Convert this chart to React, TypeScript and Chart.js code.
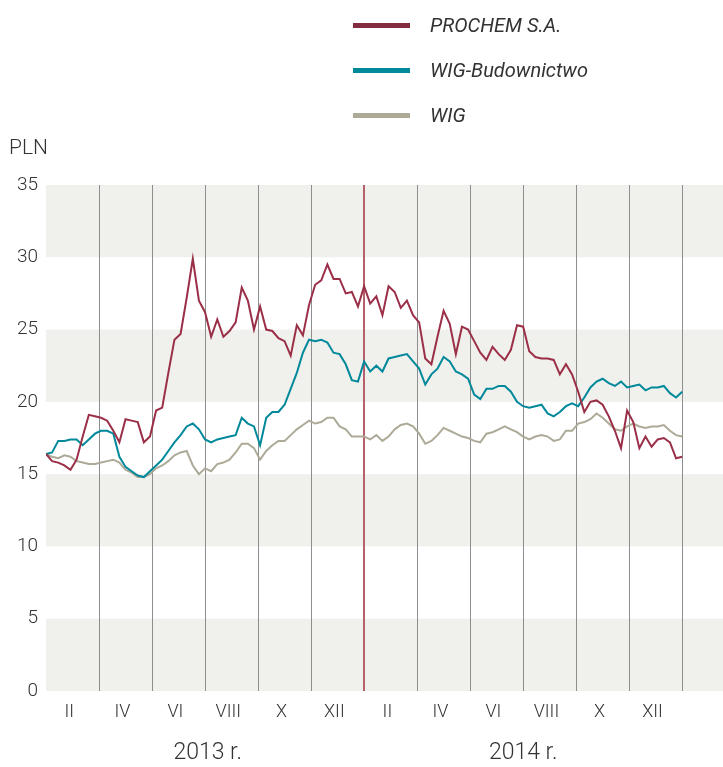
import React, { useEffect, useRef } from "react";
import { Chart, registerables } from "chart.js";

Chart.register(...registerables);

// Weekly readings, Jan 2013 (week 0) .. end of Dec 2014 (week 104)
const prochem = [
  16.4, 15.9, 15.8, 15.6, 15.3, 16.0, 17.6, 19.1, 19.0, 18.9,
  18.7, 18.0, 17.2, 18.8, 18.7, 18.6, 17.2, 17.6, 19.4, 19.6,
  22.0, 24.3, 24.7, 27.2, 29.9, 27.0, 26.2, 24.5, 25.7, 24.5,
  24.9, 25.5, 27.9, 27.0, 25.0, 26.6, 25.0, 24.9, 24.4, 24.2,
  23.2, 25.3, 24.6, 26.7, 28.1, 28.4, 29.5, 28.5, 28.5, 27.5,
  27.6, 26.6, 28.0, 26.8, 27.3, 26.0, 28.0, 27.6, 26.5, 27.0,
  26.0, 25.5, 23.0, 22.6, 24.5, 26.3, 25.4, 23.3, 25.2, 25.0,
  24.2, 23.4, 22.9, 23.8, 23.3, 22.9, 23.6, 25.3, 25.2, 23.5,
  23.1, 23.0, 23.0, 22.9, 21.9, 22.6, 21.9, 20.7, 19.3, 20.0,
  20.1, 19.8, 19.0, 18.0, 16.8, 19.4, 18.6, 16.8, 17.6, 16.9,
  17.4, 17.5, 17.2, 16.1, 16.2,
];

const wigBudownictwo = [
  16.4, 16.5, 17.3, 17.3, 17.4, 17.4, 17.0, 17.4, 17.8, 18.0,
  18.0, 17.8, 16.2, 15.5, 15.2, 14.9, 14.8, 15.2, 15.6, 16.0,
  16.6, 17.2, 17.7, 18.3, 18.5, 18.1, 17.4, 17.2, 17.4, 17.5,
  17.6, 17.7, 18.9, 18.5, 18.3, 17.0, 18.9, 19.3, 19.3, 19.8,
  20.9, 22.0, 23.4, 24.3, 24.2, 24.3, 24.1, 23.4, 23.3, 22.6,
  21.5, 21.4, 22.8, 22.1, 22.5, 22.1, 23.0, 23.1, 23.2, 23.3,
  22.8, 22.3, 21.2, 21.9, 22.3, 23.1, 22.8, 22.1, 21.9, 21.6,
  20.5, 20.2, 20.9, 20.9, 21.1, 21.1, 20.7, 20.0, 19.7, 19.6,
  19.7, 19.8, 19.2, 19.0, 19.3, 19.7, 19.9, 19.7, 20.3, 21.0,
  21.4, 21.6, 21.3, 21.1, 21.4, 21.0, 21.1, 21.2, 20.8, 21.0,
  21.0, 21.1, 20.6, 20.3, 20.7,
];

const wig = [
  16.4, 16.2, 16.1, 16.3, 16.2, 15.9, 15.8, 15.7, 15.7, 15.8,
  15.9, 16.0, 15.8, 15.3, 15.1, 14.8, 14.8, 15.0, 15.4, 15.6,
  15.9, 16.3, 16.5, 16.6, 15.6, 15.0, 15.4, 15.2, 15.7, 15.8,
  16.0, 16.5, 17.1, 17.1, 16.8, 16.0, 16.6, 17.0, 17.3, 17.3,
  17.7, 18.1, 18.4, 18.7, 18.5, 18.6, 18.9, 18.9, 18.3, 18.1,
  17.6, 17.6, 17.6, 17.4, 17.7, 17.3, 17.6, 18.1, 18.4, 18.5,
  18.3, 17.8, 17.1, 17.3, 17.7, 18.2, 18.0, 17.8, 17.6, 17.5,
  17.3, 17.2, 17.8, 17.9, 18.1, 18.3, 18.1, 17.9, 17.6, 17.4,
  17.6, 17.7, 17.6, 17.3, 17.4, 18.0, 18.0, 18.5, 18.6, 18.8,
  19.2, 18.9, 18.5, 18.1, 18.0, 18.3, 18.5, 18.3, 18.2, 18.3,
  18.3, 18.4, 18.0, 17.7, 17.6,
];

const monthLabels = ["II", "IV", "VI", "VIII", "X", "XII", "II", "IV", "VI", "VIII", "X", "XII"];
const yearLabels = ["2013 r.", "2014 r."];
const yearPositions = [6.1, 18.0]; // months from Jan 2013
const yTickValues = [0, 5, 10, 15, 20, 25, 30, 35];
const gridMonths = [0, 2, 4, 6, 8, 10, 12, 14, 16, 18, 20, 22, 24];

const seriesNames = ["PROCHEM S.A.", "WIG-Budownictwo", "WIG"];
const seriesColors = ["#9a2f47", "#00889b", "#adaa98"];
const legendColors = ["#832c3f", "#00889b", "#adaa98"];

const FONT = "Roboto, 'Open Sans', sans-serif";
const TEXT = "#333333";
const X_MAX = 25.54;

const toPoints = (arr: number[]) => arr.map((v, i) => ({ x: (i * 24) / 104, y: v }));

const bandsPlugin = {
  id: "bands",
  beforeDraw(chart: any) {
    const { ctx, chartArea } = chart;
    const y = chart.scales.y;
    ctx.save();
    ctx.fillStyle = "#f0f0ec";
    for (let v = 0; v < 35; v += 10) {
      const top = y.getPixelForValue(v + 5);
      const bot = y.getPixelForValue(v);
      ctx.fillRect(chartArea.left, top, chartArea.right - chartArea.left, bot - top);
    }
    ctx.restore();
  },
  afterDraw(chart: any) {
    const { ctx } = chart;
    ctx.save();
    ctx.fillStyle = TEXT;
    ctx.font = `300 21px ${FONT}`;
    ctx.textBaseline = "middle";
    ctx.textAlign = "left";
    ctx.fillText("PLN", 9, 149);
    ctx.restore();
  },
};

export default function App() {
  const ref = useRef<HTMLCanvasElement | null>(null);

  useEffect(() => {
    if (!ref.current) return;
    const chart = new Chart(ref.current, {
      type: "line",
      data: {
        datasets: [
          { label: seriesNames[0], data: toPoints(prochem), borderColor: seriesColors[0], borderWidth: 2, pointRadius: 0, tension: 0 },
          { label: seriesNames[1], data: toPoints(wigBudownictwo), borderColor: seriesColors[1], borderWidth: 2, pointRadius: 0, tension: 0 },
          { label: seriesNames[2], data: toPoints(wig), borderColor: seriesColors[2], borderWidth: 2, pointRadius: 0, tension: 0 },
        ],
      },
      options: {
        animation: false,
        responsive: true,
        maintainAspectRatio: false,
        layout: { padding: { top: 185, left: 0, right: 0, bottom: 0 } },
        plugins: { legend: { display: false }, tooltip: { enabled: false } },
        scales: {
          x: {
            type: "linear",
            position: "bottom",
            weight: 0,
            min: 0,
            max: X_MAX,
            afterBuildTicks: (s: any) => {
              s.ticks = gridMonths.map((v) => ({ value: v }));
            },
            ticks: { display: false },
            grid: {
              drawTicks: false,
              color: (c: any) => (c.tick.value === 12 ? "#b5606b" : c.tick.value === 0 ? "rgba(0,0,0,0)" : "#8e8e8e"),
              lineWidth: (c: any) => (c.tick.value === 12 ? 2 : 1),
            },
            border: { display: false },
            afterFit: (s: any) => {
              s.height = 0;
            },
          },
          xm: {
            type: "linear",
            position: "bottom",
            weight: 1,
            min: 0,
            max: X_MAX,
            afterBuildTicks: (s: any) => {
              s.ticks = monthLabels.map((_, k) => ({ value: 2 * k + 0.88 }));
            },
            ticks: {
              autoSkip: false,
              maxRotation: 0,
              padding: 11,
              color: TEXT,
              font: { family: FONT, size: 18, weight: "300" },
              callback: (_v: any, i: number) => monthLabels[i],
            },
            grid: { display: false, drawTicks: false },
            border: { display: false },
            afterFit: (s: any) => {
              s.height = 36;
            },
          },
          xy: {
            type: "linear",
            position: "bottom",
            weight: 2,
            min: 0,
            max: X_MAX,
            afterBuildTicks: (s: any) => {
              s.ticks = yearPositions.map((v) => ({ value: v }));
            },
            ticks: {
              autoSkip: false,
              maxRotation: 0,
              padding: 12,
              color: TEXT,
              font: { family: FONT, size: 23, weight: "300" },
              callback: (_v: any, i: number) => yearLabels[i],
            },
            grid: { display: false, drawTicks: false },
            border: { display: false },
            afterFit: (s: any) => {
              s.height = 40;
            },
          },
          y: {
            type: "linear",
            position: "left",
            min: 0,
            max: 35,
            afterBuildTicks: (s: any) => {
              s.ticks = yTickValues.map((v) => ({ value: v }));
            },
            ticks: {
              padding: 8,
              color: TEXT,
              font: { family: FONT, size: 19, weight: "300" },
            },
            grid: { display: false, drawTicks: false },
            border: { display: false },
            afterFit: (s: any) => {
              s.width = 46;
            },
          },
        },
      },
      plugins: [bandsPlugin],
    });
    return () => chart.destroy();
  }, []);

  return (
    <div style={{ position: "absolute", left: 0, top: 0, width: 723, height: 767, background: "#fff" }}>
      <canvas ref={ref} style={{ position: "absolute", left: 0, top: 0 }} />
      <div style={{ position: "absolute", left: 353, top: 0 }}>
        {seriesNames.map((name, i) => (
          <div
            key={name}
            style={{ position: "absolute", left: 0, top: 25 + i * 45 - 15, height: 30, display: "flex", alignItems: "center", whiteSpace: "nowrap" }}
          >
            <span style={{ display: "inline-block", width: 57, height: 5, background: legendColors[i] }} />
            <span
              style={{
                marginLeft: 20,
                fontFamily: FONT,
                fontStyle: "italic",
                fontWeight: 400,
                fontSize: 20,
                color: TEXT,
              }}
            >
              {name}
            </span>
          </div>
        ))}
      </div>
    </div>
  );
}
